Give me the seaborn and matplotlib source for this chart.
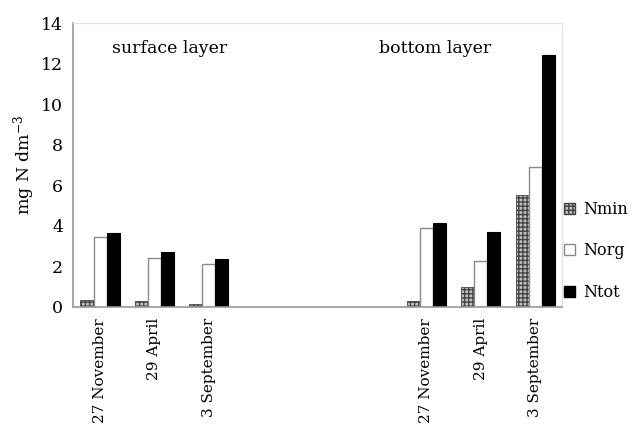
import numpy as np
import pandas as pd
import matplotlib
matplotlib.use("Agg")
import matplotlib.pyplot as plt
import seaborn as sns
from matplotlib.patches import Patch

# sampling dates and layers
dates = ["27 November", "29 April", "3 September"]
layers = ["surface layer", "bottom layer"]
series = ["Nmin", "Norg", "Ntot"]

# values (mg N dm-3)
surface_nmin = [0.35, 0.30, 0.15]
surface_norg = [3.45, 2.40, 2.12]
surface_ntot = [3.65, 2.70, 2.36]
bottom_nmin = [0.30, 1.00, 5.50]
bottom_norg = [3.90, 2.25, 6.90]
bottom_ntot = [4.15, 3.70, 12.45]

# slots on the x axis: 3 surface dates, 3 empty slots, 3 bottom dates
slot_order = ["s0", "s1", "s2", "e0", "e1", "e2", "b0", "b1", "b2"]
tick_labels = dates + ["", "", ""] + dates

rows = []
for i in range(3):
    for name, vals in zip(series, [surface_nmin, surface_norg, surface_ntot]):
        rows.append({"slot": f"s{i}", "series": name, "value": vals[i]})
    for name, vals in zip(series, [bottom_nmin, bottom_norg, bottom_ntot]):
        rows.append({"slot": f"b{i}", "series": name, "value": vals[i]})
df = pd.DataFrame(rows)

sns.set_style("white")
plt.rcParams["font.family"] = ["DejaVu Serif"]
plt.rcParams["mathtext.fontset"] = "dejavuserif"
plt.rcParams["text.color"] = "black"
plt.rcParams["axes.labelcolor"] = "black"
plt.rcParams["xtick.labelcolor"] = "black"
plt.rcParams["ytick.labelcolor"] = "black"

fig = plt.figure(figsize=(6.39, 4.28), dpi=100)
ax = fig.add_axes([0.114, 0.283, 0.766, 0.663])

palette = {"Nmin": "#b4b4b4", "Norg": "white", "Ntot": "black"}
sns.barplot(data=df, x="slot", y="value", hue="series", order=slot_order,
            hue_order=series, palette=palette, width=0.72, gap=0,
            legend=False, ax=ax)

# style each series
styles = {
    "Nmin": dict(facecolor="#c0c0c0", edgecolor="#444444", hatch="++++", lw=0.6),
    "Norg": dict(facecolor="white", edgecolor="#8a8a8a", hatch=None, lw=1.0),
    "Ntot": dict(facecolor="black", edgecolor="black", hatch=None, lw=0.8),
}
for name, cont in zip(series, ax.containers):
    st = styles[name]
    for p in cont:
        p.set_facecolor(st["facecolor"])
        p.set_edgecolor(st["edgecolor"])
        p.set_linewidth(st["lw"])
        if st["hatch"]:
            p.set_hatch(st["hatch"])

ax.set_xlim(-0.5, 8.5)
ax.set_ylim(0, 14)
ax.set_yticks(np.arange(0, 15, 2))
ax.set_xticks(range(9))
ax.set_xticklabels(tick_labels, rotation=90, fontsize=11)
ax.set_xticks(np.arange(-0.5, 9, 1), minor=True)
ax.tick_params(axis="x", which="major", length=0, pad=8)
ax.tick_params(axis="x", which="minor", length=3, color="#aaaaaa", direction="out")
ax.tick_params(axis="y", labelsize=12.5, length=4, color="#999999", direction="out", pad=3)
ax.set_xlabel("")
ax.set_ylabel("mg N dm$^{-3}$", fontsize=12.5, labelpad=3)

for side in ["left", "bottom"]:
    ax.spines[side].set_color("#9a9a9a")
    ax.spines[side].set_linewidth(1.2)
for side in ["top", "right"]:
    ax.spines[side].set_color("#e2e2e2")
    ax.spines[side].set_linewidth(1.0)

ax.text(1.28, 12.75, layers[0], fontsize=12.5, ha="center", va="center")
ax.text(6.17, 12.75, layers[1], fontsize=12.5, ha="center", va="center")

handles = [Patch(facecolor=styles[n]["facecolor"], edgecolor=styles[n]["edgecolor"],
                 hatch=styles[n]["hatch"], linewidth=1.0, label=n) for n in series]
ax.legend(handles=handles, loc="center left", bbox_to_anchor=(1.0, 0.197),
          frameon=False, handlelength=0.7, handleheight=0.7, handletextpad=0.5,
          labelspacing=1.55, borderaxespad=0.0, borderpad=0.1, fontsize=11.5)

fig.savefig("out.png", dpi=100)
